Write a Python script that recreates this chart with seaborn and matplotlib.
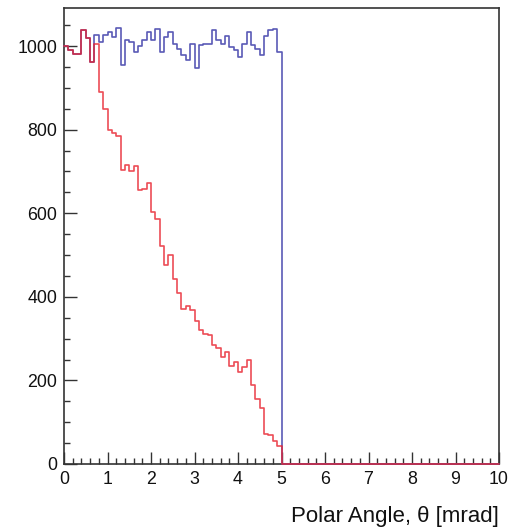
import numpy as np
import pandas as pd
import matplotlib
matplotlib.use("Agg")
import matplotlib.pyplot as plt
from matplotlib.ticker import MultipleLocator
import seaborn as sns

# Histogram binning: 100 bins of 0.1 mrad from 0 to 10 mrad
bin_edges = [round(0.1 * i, 2) for i in range(101)]

# Counts per bin for 0 - 5 mrad (bins above 5 mrad are empty)
all_counts = [
    1000, 990, 982, 982, 1038, 1020, 962, 1026, 1010, 1026,
    1034, 1022, 1044, 955, 1014, 1010, 986, 1000, 1014, 1034,
    1014, 1040, 985, 1022, 1034, 1006, 994, 978, 966, 1006,
    947, 1002, 1006, 1006, 1038, 1014, 1006, 1023, 998, 990,
    974, 1006, 1034, 1002, 994, 978, 1023, 1038, 1040, 986,
]
accepted_counts = [
    1000, 990, 982, 982, 1038, 1020, 962, 1004, 890, 850,
    800, 792, 785, 703, 715, 700, 712, 655, 658, 672,
    604, 585, 522, 475, 500, 442, 410, 370, 378, 368,
    342, 320, 310, 308, 284, 278, 257, 268, 235, 243,
    221, 232, 248, 189, 156, 133, 72, 70, 55, 42,
]
empty_bins = [0] * 50

x_ticks = [0, 1, 2, 3, 4, 5, 6, 7, 8, 9, 10]
y_ticks = [0, 200, 400, 600, 800, 1000]
x_label = "Polar Angle, \u03b8 [mrad]"

edges_arr = np.array(bin_edges)
centers = (edges_arr[:-1] + edges_arr[1:]) / 2
all_df = pd.DataFrame({"theta": centers, "count": all_counts + empty_bins})
acc_df = pd.DataFrame({"theta": centers, "count": accepted_counts + empty_bins})

sns.set_style("white")
plt.rcParams["font.family"] = ["Liberation Sans", "DejaVu Sans"]

fig = plt.figure(figsize=(5.10, 5.31), dpi=100)
ax = fig.add_axes([64 / 510, 1 - 464 / 531, (499 - 64) / 510, (464 - 8) / 531])

sns.histplot(data=all_df, x="theta", weights="count",
             bins=bin_edges, element="step", fill=False,
             color="#5a5ab6", linewidth=1.2, zorder=3, ax=ax)
sns.histplot(data=acc_df, x="theta", weights="count",
             bins=bin_edges, element="step", fill=False,
             color="#e8202c", alpha=0.8, linewidth=1.2, zorder=3, ax=ax)
for line in ax.lines:
    line.set_clip_on(False)

ax.set_xlim(0, 10)
ax.set_ylim(0, 1091)
ax.set_xticks(x_ticks)
ax.set_yticks(y_ticks)
ax.xaxis.set_minor_locator(MultipleLocator(0.2))
ax.yaxis.set_minor_locator(MultipleLocator(50))

ax.tick_params(axis="both", which="both", direction="in",
               left=True, bottom=True, top=False, right=False,
               color="#333333", labelcolor="#111111")
ax.tick_params(axis="both", which="major", length=9, width=1.0, labelsize=12.8, pad=5)
ax.tick_params(axis="both", which="minor", length=4.5, width=1.0)

for side in ["left", "bottom", "right", "top"]:
    ax.spines[side].set_visible(True)
    ax.spines[side].set_color("#333333")
    ax.spines[side].set_linewidth(1.2)

ax.set_ylabel("")
ax.set_xlabel(x_label, loc="right", fontsize=16, color="#111111", labelpad=13)

fig.savefig("out.png", dpi=100, facecolor="white")
